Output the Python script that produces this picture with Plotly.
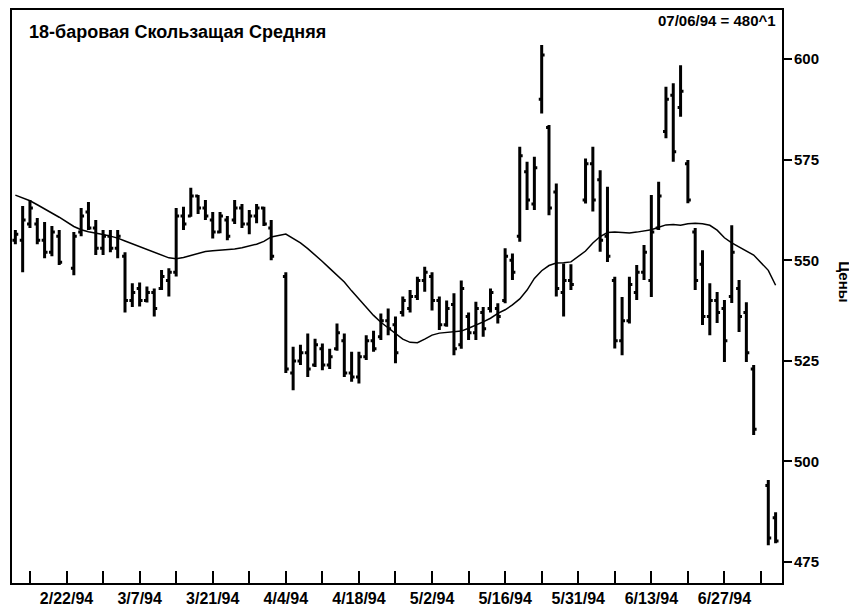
import plotly.graph_objects as go

# ---- data ----
dates = [
    "1994-02-10", "1994-02-11", "1994-02-14", "1994-02-15", "1994-02-16", "1994-02-17", "1994-02-18",
    "1994-02-22", "1994-02-23", "1994-02-24", "1994-02-25", "1994-02-28",
    "1994-03-01", "1994-03-02", "1994-03-03", "1994-03-04", "1994-03-07", "1994-03-08", "1994-03-09",
    "1994-03-10", "1994-03-11", "1994-03-14", "1994-03-15", "1994-03-16", "1994-03-17", "1994-03-18",
    "1994-03-21", "1994-03-22", "1994-03-23", "1994-03-24", "1994-03-25", "1994-03-28", "1994-03-29",
    "1994-03-30", "1994-03-31",
    "1994-04-04", "1994-04-05", "1994-04-06", "1994-04-07", "1994-04-08", "1994-04-11", "1994-04-12",
    "1994-04-13", "1994-04-14", "1994-04-15", "1994-04-18", "1994-04-19", "1994-04-20", "1994-04-21",
    "1994-04-22", "1994-04-25", "1994-04-26", "1994-04-27", "1994-04-28", "1994-04-29",
    "1994-05-02", "1994-05-03", "1994-05-04", "1994-05-05", "1994-05-06", "1994-05-09", "1994-05-10",
    "1994-05-11", "1994-05-12", "1994-05-13", "1994-05-16", "1994-05-17", "1994-05-18", "1994-05-19",
    "1994-05-20", "1994-05-23", "1994-05-24", "1994-05-25", "1994-05-26", "1994-05-27", "1994-05-31",
    "1994-06-01", "1994-06-02", "1994-06-03", "1994-06-06", "1994-06-07", "1994-06-08", "1994-06-09",
    "1994-06-10", "1994-06-13", "1994-06-14", "1994-06-15", "1994-06-16", "1994-06-17", "1994-06-20",
    "1994-06-21", "1994-06-22", "1994-06-23", "1994-06-24", "1994-06-27", "1994-06-28", "1994-06-29",
    "1994-06-30", "1994-07-01", "1994-07-05", "1994-07-06",
]

opens = [
    555, 555, 559, 559, 555, 552, 556,
    548, 557, 562, 558, 553,
    556, 553, 551, 540, 543, 540, 542,
    543, 545, 547, 561, 561, 566, 563,
    560, 557, 560, 560, 563, 559, 561,
    563, 558,
    546, 522, 525, 527, 524, 528, 524,
    528, 530, 522, 521, 526, 530, 531,
    535, 534, 537, 538, 541, 545,
    546, 540, 534, 539, 529, 536, 532,
    537, 538, 538, 540, 550, 556, 572,
    564, 590, 583, 567, 542, 545, 565,
    574, 570, 556, 545, 530, 535, 542,
    547, 545, 558, 582, 591, 588, 574,
    557, 549, 536, 540, 538, 541, 543,
    537, 523, 494, 486,
]

highs = [
    557.5, 563.5, 565, 560.5, 559.5, 558.5, 557.5,
    557, 563, 564.5, 560, 557.5,
    557.5, 557.5, 552, 544.3, 544.5, 543.5, 543,
    547.6, 548, 563, 563.3, 568, 566.2, 565,
    562, 562, 561, 565, 564, 562.5, 564,
    563.3, 560,
    547, 528.5, 529, 531.8, 530.5, 529.3, 528,
    534.3, 531.8, 527.3, 527.3, 531.4, 532.5, 536.8,
    538, 536, 541, 542.6, 545.9, 548.4,
    547, 541, 540, 541.8, 545, 537, 539.7,
    538.4, 543, 539.3, 553, 551.7, 578.2, 574.5,
    575.7, 603.5, 583.6, 569.1, 549.2, 549, 575.3,
    578.2, 572.4, 568.3, 545.9, 540.9, 545.9, 548.8,
    553.8, 566.2, 569.5, 593.1, 594, 598.5, 574.9,
    558, 552.5, 544.3, 542.1, 540.1, 558.7, 545.1,
    539.6, 524, 495.4, 487.4,
]

lows = [
    554, 547, 558, 554, 550.5, 551, 548.8,
    546.3, 556, 557.5, 551.3, 551.3,
    552, 550.5, 537, 538.4, 538.5, 539.5, 536,
    542.6, 541, 546, 557.5, 560.8, 561.5, 560,
    555.4, 556.7, 555, 559, 558, 556.5, 559.2,
    558.5, 550,
    522, 517.7, 524, 521, 523.5, 522.7, 523,
    527.5, 521, 519.8, 519.4, 525.2, 527.3, 530.2,
    531.4, 524.4, 536, 537, 540.1, 542.2,
    537.5, 532.7, 533.5, 526.4, 528, 530.2, 530.2,
    531, 537, 534.3, 539.3, 545.1, 554.6, 562.5,
    562.5, 586.5, 561.2, 541, 536, 542.6, 564.1,
    562.1, 552.1, 549.6, 528.1, 526.4, 534.3, 540.1,
    545.1, 540.9, 557.5, 580.3, 574.5, 585.7, 564.2,
    542.6, 533.9, 531.4, 534.4, 524.7, 539.4, 532.2,
    524.7, 506.6, 479.2, 479.7,
]

closes = [
    556.5, 560, 563, 555, 552, 557, 549.5,
    556, 561, 558, 553, 556,
    553, 556, 540, 542, 540, 542, 538,
    546, 547, 561, 559, 566, 563, 561,
    557, 561, 556, 563, 559, 561, 563,
    559, 551,
    523, 525, 527, 523, 529, 524, 526,
    532, 522, 521, 526, 530, 528, 535,
    533, 527, 540, 541, 545, 547,
    540, 534, 538, 528, 543, 532, 538,
    533, 542, 536, 551, 547, 576, 565,
    573, 601, 563, 543, 545, 544, 574,
    565, 555, 551, 530, 535, 544, 547,
    552, 557, 566, 590, 577, 592, 565,
    545, 536, 540, 537, 530, 552, 536,
    527, 508, 481, 480.25,
]

# 18-bar moving average
ma18 = [
    566.2, 565.5, 564.8, 563.8, 562.8, 561.8, 560.7,
    558.4, 557.6, 557.1, 556.8, 556.4,
    556.0, 555.5, 554.8, 554.1, 553.5, 552.7, 551.9,
    551.2, 550.6, 550.4, 550.7, 551.2, 551.7, 552.2,
    552.4, 552.5, 552.6, 552.8, 553.1, 553.5, 554.0,
    554.7, 555.8,
    556.5, 555.5, 554.3, 552.9, 551.4, 549.7, 548.0,
    546.4, 544.6, 542.4, 540.3, 538.3, 536.3, 534.6,
    533.2, 531.7, 530.4, 529.6, 529.5, 530.4,
    531.4, 531.9, 532.1, 532.2, 532.4, 533.1, 533.8,
    534.7, 535.6, 536.8, 537.7, 538.9, 540.4, 542.6,
    545.5, 547.4, 548.7, 549.3, 549.4, 549.6, 552.3,
    554.3, 555.9, 556.9, 557.0, 556.9, 556.8, 557.0,
    557.3, 557.6, 558.2, 558.8, 558.9, 558.7, 559.1,
    559.2, 559.1, 558.7, 557.5, 555.6, 554.3, 553.3,
    552.3, 551.3, 547.5, 543.8,
]

week_ticks = [
    "1994-02-14", "1994-02-21", "1994-02-28", "1994-03-07", "1994-03-14", "1994-03-21",
    "1994-03-28", "1994-04-04", "1994-04-11", "1994-04-18", "1994-04-25", "1994-05-02",
    "1994-05-09", "1994-05-16", "1994-05-23", "1994-05-30", "1994-06-06", "1994-06-13",
    "1994-06-20", "1994-06-27", "1994-07-04",
]
week_labels = [
    "", "2/22/94", "", "3/7/94", "", "3/21/94",
    "", "4/4/94", "", "4/18/94", "", "5/2/94",
    "", "5/16/94", "", "5/31/94", "", "6/13/94",
    "", "6/27/94", "",
]
price_ticks = [475, 500, 525, 550, 575, 600]

title_text = "18-баровая Скользащая Средняя"
corner_text = "07/06/94 = 480^1"
axis_title = "Цены"

# ---- figure ----
NARROW = "Liberation Sans Narrow, Arial Narrow, Liberation Sans, Arial, sans-serif"
SANS = "Liberation Sans, Arial, Helvetica, sans-serif"

fig = go.Figure()
fig.add_trace(go.Ohlc(
    x=dates, open=opens, high=highs, low=lows, close=closes,
    increasing=dict(line=dict(color="black", width=3)),
    decreasing=dict(line=dict(color="black", width=3)),
    tickwidth=0.4, showlegend=False, hoverinfo="skip",
))
fig.add_trace(go.Scatter(
    x=dates, y=ma18, mode="lines",
    line=dict(color="black", width=1.5),
    showlegend=False, hoverinfo="skip",
))

fig.update_layout(
    width=849, height=602,
    paper_bgcolor="white", plot_bgcolor="white",
    margin=dict(l=4, r=75, t=2, b=27, autoexpand=False),
    showlegend=False,
    xaxis=dict(
        type="date",
        rangebreaks=[dict(bounds=["sat", "mon"])],
        range=["1994-02-09 13:00", "1994-07-06 21:00"],
        rangeslider=dict(visible=False),
        tickmode="array", tickvals=week_ticks, ticktext=week_labels,
        ticks="inside", ticklen=12, tickwidth=2, tickcolor="black",
        showline=True, linewidth=2, linecolor="black", mirror=True,
        showgrid=False, zeroline=False,
        tickfont=dict(family=NARROW, size=16, color="black", weight="bold"),
    ),
    yaxis=dict(
        side="right",
        range=[469.8, 612.2],
        tickmode="array", tickvals=price_ticks,
        ticks="outside", ticklen=8, tickwidth=2, tickcolor="black",
        ticklabelstandoff=-1,
        showline=True, linewidth=2, linecolor="black", mirror=True,
        showgrid=False, zeroline=False,
        tickfont=dict(family=NARROW, size=15, color="black", weight="bold"),
    ),
    annotations=[
        dict(text=title_text, xref="paper", yref="paper", x=0.019, y=0.9616,
             xanchor="left", yanchor="middle", showarrow=False,
             font=dict(family=SANS, size=18, color="black", weight="bold")),
        dict(text=corner_text, xref="paper", yref="paper", x=0.995, y=0.9825,
             xanchor="right", yanchor="middle", showarrow=False,
             font=dict(family=NARROW, size=15, color="black", weight="bold")),
        dict(text=axis_title, xref="paper", yref="paper", x=1.0818, y=0.525,
             xanchor="center", yanchor="middle", showarrow=False, textangle=90,
             font=dict(family=NARROW, size=15, color="black", weight="bold")),
    ],
)

fig.write_html("out.html")
